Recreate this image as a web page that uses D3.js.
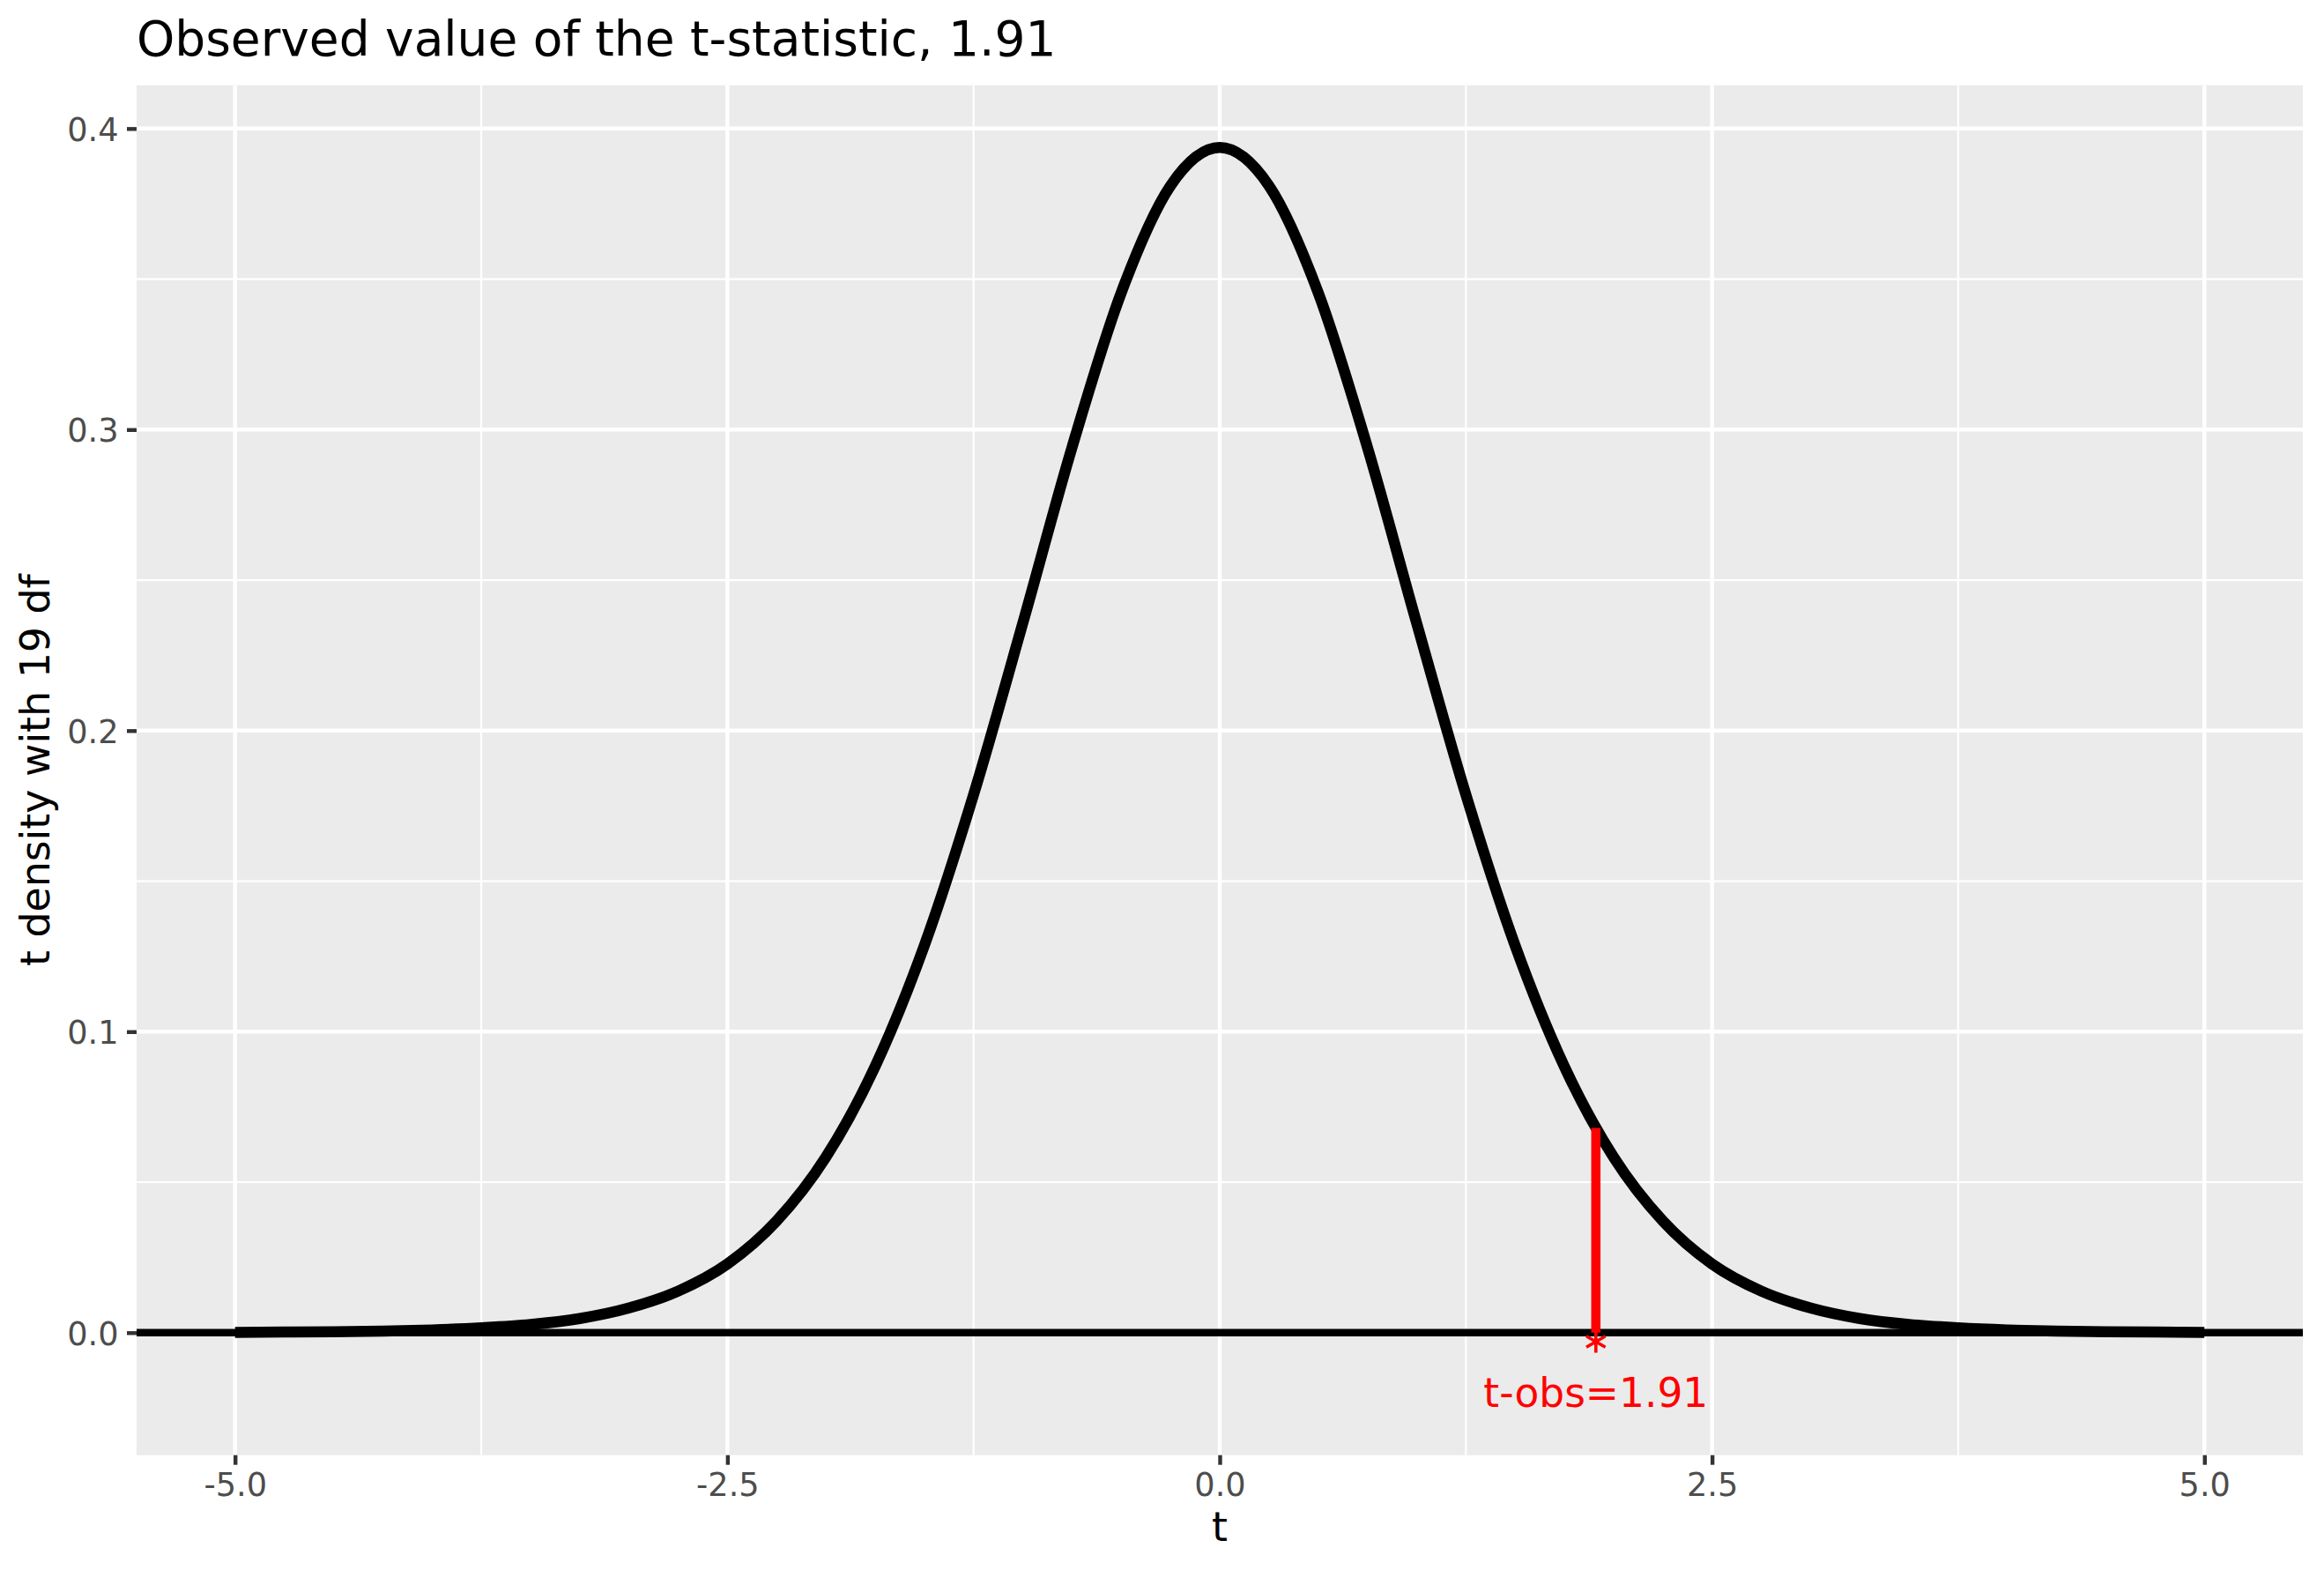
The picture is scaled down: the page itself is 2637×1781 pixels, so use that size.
<!DOCTYPE html>
<html>
<head>
<meta charset="utf-8">
<script src="https://cdn.jsdelivr.net/npm/d3@7"></script>
<style>
  body { margin: 0; background: #ffffff; }
  svg { display: block; font-family: "DejaVu Sans", sans-serif; }
</style>
</head>
<body>
<div id="chart"></div>
<script>
// t values and density (t distribution, 19 df)
const tValues = [
  -5, -4.75, -4.5, -4.25, -4, -3.75, -3.5, -3.25, -3, -2.75, -2.5, -2.25, -2, -1.75, -1.5, -1.25, -1, -0.75, -0.5, -0.25,
  0, 0.25, 0.5, 0.75, 1, 1.25, 1.5, 1.75, 2, 2.25, 2.5, 2.75, 3, 3.25, 3.5, 3.75, 4, 4.25, 4.5, 4.75, 5
];
const densityValues = [
  0.0001, 0.0002, 0.0003, 0.0005, 0.0009, 0.0016, 0.0027, 0.0047, 0.0082, 0.0138, 0.0228, 0.0371, 0.0583, 0.0884, 0.1286, 0.1787, 0.2357, 0.2941, 0.3455, 0.3810,
  0.3937, 0.3810, 0.3455, 0.2941, 0.2357, 0.1787, 0.1286, 0.0884, 0.0583, 0.0371, 0.0228, 0.0138, 0.0082, 0.0047, 0.0027, 0.0016, 0.0009, 0.0005, 0.0003, 0.0002, 0.0001
];

// observed statistic, the segment up to the curve, marker and label
const tObs = 1.91;
const obsSegment = [0, 0.068];   // y from / to
const obsMarkerY = -0.003;
const obsLabelY = -0.02;
const obsLabel = "t-obs=1.91";

const xTicks = [-5, -2.5, 0, 2.5, 5];
const xMinor = [-3.75, -1.25, 1.25, 3.75];
const yTicks = [0, 0.1, 0.2, 0.3, 0.4];
const yMinor = [0.05, 0.15, 0.25, 0.35];

const titleText = "Observed value of the t-statistic, 1.91";
const xTitle = "t";
const yTitle = "t density with 19 df";

const width = 2637;
const height = 1781;
const panel = { left: 155, right: 2613, top: 96.7, bottom: 1650.7 };

const data = tValues.map((t, i) => ({ t: t, d: densityValues[i] }));

// ggplot-like 5% expansion
const xExt = d3.extent(tValues);
const xPad = (xExt[1] - xExt[0]) * 0.05;
const yExt = [obsLabelY, d3.max(densityValues)];
const yPad = (yExt[1] - yExt[0]) * 0.05;

const xScale = d3.scaleLinear()
  .domain([xExt[0] - xPad, xExt[1] + xPad])
  .range([panel.left, panel.right]);

const yScale = d3.scaleLinear()
  .domain([yExt[0] - yPad, yExt[1] + yPad])
  .range([panel.bottom, panel.top]);

const svg = d3.select("#chart")
  .append("svg")
  .attr("width", width)
  .attr("height", height);

svg.append("rect")
  .attr("width", width)
  .attr("height", height)
  .attr("fill", "#ffffff");

// panel background
svg.append("rect")
  .attr("x", panel.left)
  .attr("y", panel.top)
  .attr("width", panel.right - panel.left)
  .attr("height", panel.bottom - panel.top)
  .attr("fill", "#EBEBEB");

const grid = svg.append("g");

grid.selectAll(".xminor")
  .data(xMinor)
  .enter()
  .append("line")
  .attr("x1", (d) => xScale(d))
  .attr("x2", (d) => xScale(d))
  .attr("y1", panel.top)
  .attr("y2", panel.bottom)
  .attr("stroke", "#ffffff")
  .attr("stroke-width", 2.2);

grid.selectAll(".yminor")
  .data(yMinor)
  .enter()
  .append("line")
  .attr("x1", panel.left)
  .attr("x2", panel.right)
  .attr("y1", (d) => yScale(d))
  .attr("y2", (d) => yScale(d))
  .attr("stroke", "#ffffff")
  .attr("stroke-width", 2.2);

grid.selectAll(".xmajor")
  .data(xTicks)
  .enter()
  .append("line")
  .attr("x1", (d) => xScale(d))
  .attr("x2", (d) => xScale(d))
  .attr("y1", panel.top)
  .attr("y2", panel.bottom)
  .attr("stroke", "#ffffff")
  .attr("stroke-width", 4.4);

grid.selectAll(".ymajor")
  .data(yTicks)
  .enter()
  .append("line")
  .attr("x1", panel.left)
  .attr("x2", panel.right)
  .attr("y1", (d) => yScale(d))
  .attr("y2", (d) => yScale(d))
  .attr("stroke", "#ffffff")
  .attr("stroke-width", 4.4);

// horizontal line at zero
svg.append("line")
  .attr("x1", panel.left)
  .attr("x2", panel.right)
  .attr("y1", yScale(0))
  .attr("y2", yScale(0))
  .attr("stroke", "#000000")
  .attr("stroke-width", 8.5);

// density curve
const line = d3.line()
  .x((d) => xScale(d.t))
  .y((d) => yScale(d.d))
  .curve(d3.curveMonotoneX);

svg.append("path")
  .datum(data)
  .attr("d", line)
  .attr("fill", "none")
  .attr("stroke", "#000000")
  .attr("stroke-width", 12.5)
  .attr("stroke-linecap", "butt")
  .attr("stroke-linejoin", "round");

// observed t segment
svg.append("line")
  .attr("x1", xScale(tObs))
  .attr("x2", xScale(tObs))
  .attr("y1", yScale(obsSegment[0]))
  .attr("y2", yScale(obsSegment[1]))
  .attr("stroke", "#FF0000")
  .attr("stroke-width", 10.5);

svg.append("path")
  .attr("d", d3.symbol().type(d3.symbolAsterisk).size(440)())
  .attr("transform", `translate(${xScale(tObs)},${yScale(obsMarkerY)})`)
  .attr("fill", "none")
  .attr("stroke", "#FF0000")
  .attr("stroke-width", 3.6);

svg.append("text")
  .attr("x", xScale(tObs))
  .attr("y", yScale(obsLabelY))
  .attr("dy", "0.36em")
  .attr("text-anchor", "middle")
  .attr("fill", "#FF0000")
  .style("font-size", "45.5px")
  .text(obsLabel);

// axes
const xAxis = svg.append("g")
  .attr("transform", `translate(0,${panel.bottom})`)
  .call(d3.axisBottom(xScale)
    .tickValues(xTicks)
    .tickSize(11)
    .tickPadding(9.5)
    .tickFormat((d) => d.toFixed(1)));

const yAxis = svg.append("g")
  .attr("transform", `translate(${panel.left},0)`)
  .call(d3.axisLeft(yScale)
    .tickValues(yTicks)
    .tickSize(11)
    .tickPadding(9.5)
    .tickFormat((d) => d.toFixed(1)));

[xAxis, yAxis].forEach((ax) => {
  ax.select(".domain").remove();
  ax.selectAll(".tick line")
    .attr("stroke", "#333333")
    .attr("stroke-width", 4.4);
  ax.selectAll(".tick text")
    .attr("fill", "#4D4D4D")
    .style("font-family", "DejaVu Sans")
    .style("font-size", "36.7px");
});
yAxis.selectAll(".tick text").attr("dy", "0.37em");

// titles
svg.append("text")
  .attr("x", panel.left)
  .attr("y", 63)
  .attr("fill", "#000000")
  .style("font-size", "55px")
  .text(titleText);

svg.append("text")
  .attr("x", (panel.left + panel.right) / 2)
  .attr("y", 1748)
  .attr("text-anchor", "middle")
  .attr("fill", "#000000")
  .style("font-size", "45.8px")
  .text(xTitle);

svg.append("text")
  .attr("transform", `translate(56,${(panel.top + panel.bottom) / 2}) rotate(-90)`)
  .attr("text-anchor", "middle")
  .attr("fill", "#000000")
  .style("font-size", "45.8px")
  .text(yTitle);
</script>
</body>
</html>
